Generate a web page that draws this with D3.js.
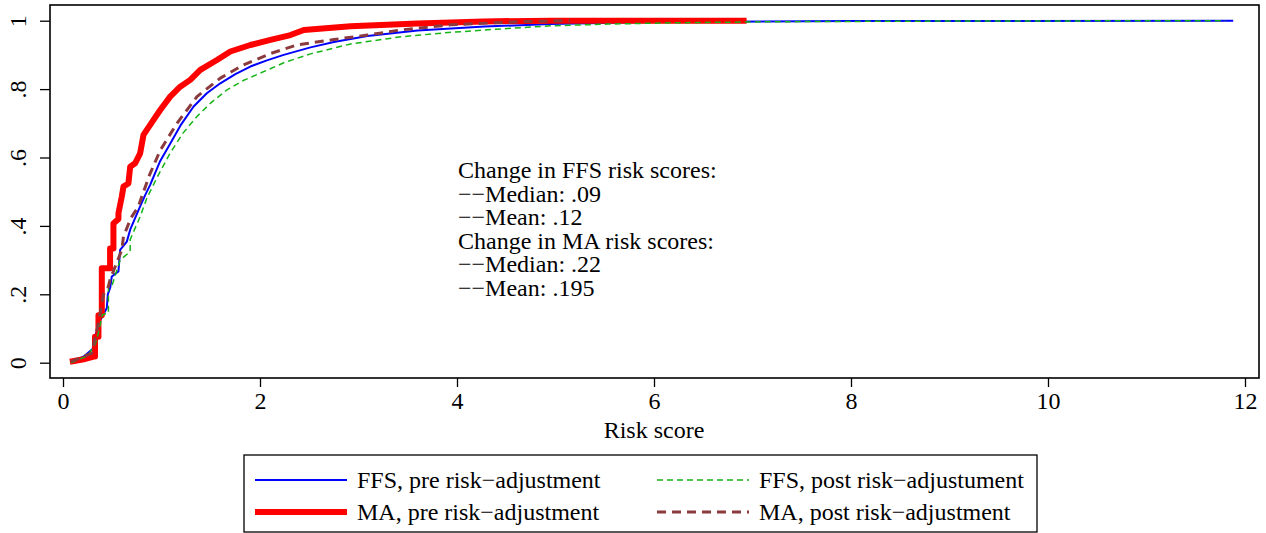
<!DOCTYPE html>
<html><head><meta charset="utf-8">
<script src="https://cdn.jsdelivr.net/npm/d3@7"></script>
<style>body{margin:0;background:#fff}svg{display:block}text{font-family:"Liberation Serif","Times New Roman",serif;fill:#000}</style>
</head><body>
<svg id="c" width="1266" height="533"></svg>
<script>
const xTicks = [0, 2, 4, 6, 8, 10, 12];
const yTicks = [0, 0.2, 0.4, 0.6, 0.8, 1];
const yTickLabels = ["0", ".2", ".4", ".6", ".8", "1"];
const xLabel = "Risk score";
const seriesNames = ["FFS, pre risk\u2212adjustment", "MA, pre risk\u2212adjustment", "FFS, post risk\u2212adjustument", "MA, post risk\u2212adjustment"];
const annotation = ["Change in FFS risk scores:", "\u2212\u2212Median: .09", "\u2212\u2212Mean: .12", "Change in MA risk scores:", "\u2212\u2212Median: .22", "\u2212\u2212Mean: .195"];

const ffsPre = [[0.08,0.0],[0.22,0.02],[0.3,0.04],[0.33,0.08],[0.37,0.12],[0.445,0.16],[0.455,0.2],[0.48,0.22],[0.495,0.252],[0.563,0.267],[0.58,0.33],[0.648,0.354],[0.682,0.389],[0.783,0.457],[0.834,0.49],[0.885,0.52],[0.987,0.59],[1.088,0.64],[1.2,0.697],[1.326,0.749],[1.46,0.788],[1.597,0.817],[1.75,0.844],[1.902,0.866],[2.07,0.884],[2.241,0.9],[2.513,0.922],[2.75,0.938],[3.09,0.955],[3.6,0.971],[4.28,0.983],[4.95,0.99],[6.0,0.996],[8.0,0.999],[11.88,1.0]];
const maPre = [[0.07,0.003],[0.21,0.01],[0.31,0.018],[0.325,0.018],[0.325,0.076],[0.36,0.076],[0.36,0.139],[0.394,0.139],[0.394,0.276],[0.478,0.276],[0.478,0.334],[0.512,0.334],[0.512,0.407],[0.563,0.42],[0.563,0.437],[0.597,0.486],[0.614,0.515],[0.664,0.524],[0.682,0.573],[0.732,0.583],[0.783,0.612],[0.817,0.666],[0.919,0.71],[0.987,0.739],[1.088,0.778],[1.19,0.807],[1.292,0.827],[1.394,0.856],[1.563,0.885],[1.699,0.91],[1.902,0.929],[2.106,0.944],[2.309,0.958],[2.445,0.973],[2.92,0.984],[3.6,0.992],[4.27,0.998],[4.95,1.0],[6.94,1.0]];
const ffsPost = [[0.08,0.0],[0.25,0.02],[0.32,0.05],[0.343,0.067],[0.4,0.14],[0.461,0.145],[0.461,0.223],[0.495,0.223],[0.58,0.30],[0.682,0.325],[0.682,0.36],[0.783,0.427],[0.851,0.481],[0.97,0.55],[1.088,0.613],[1.22,0.672],[1.36,0.72],[1.51,0.762],[1.665,0.798],[1.83,0.825],[2.004,0.847],[2.25,0.878],[2.513,0.903],[2.92,0.932],[3.43,0.953],[3.94,0.966],[4.45,0.976],[4.95,0.985],[5.53,0.99],[6.2,0.994],[7.22,0.997],[9.0,0.999],[11.8,1.0]];
const maPost = [[0.08,0.003],[0.292,0.028],[0.36,0.116],[0.41,0.199],[0.461,0.223],[0.478,0.243],[0.597,0.33],[0.614,0.369],[0.689,0.423],[0.766,0.457],[0.8,0.486],[0.88,0.55],[0.987,0.621],[1.157,0.7],[1.36,0.778],[1.597,0.832],[1.834,0.871],[2.106,0.904],[2.377,0.929],[2.75,0.945],[3.09,0.958],[3.43,0.973],[3.94,0.988],[4.62,0.997],[5.15,1.0]];

const svg = d3.select("#c");
const x = d3.scaleLinear().domain([0, 12]).range([63, 1245]);
const y = d3.scaleLinear().domain([0, 1]).range([362.7, 20.7]);
const FS = 24;

// frame
svg.append("rect").attr("x", 50).attr("y", 5).attr("width", 1209).attr("height", 373)
  .attr("fill", "none").attr("stroke", "#000").attr("stroke-width", 1.6);

// x axis
const xa = svg.append("g").attr("transform", "translate(0,378)")
  .call(d3.axisBottom(x).tickValues(xTicks).tickSize(9).tickPadding(5).tickFormat(d3.format("d")));
xa.select(".domain").remove();
xa.selectAll("line").attr("stroke", "#000").attr("stroke-width", 1.3);
xa.selectAll("text").attr("font-size", FS).attr("font-family", "Liberation Serif");

// y axis
const ya = svg.append("g").attr("transform", "translate(50,0)")
  .call(d3.axisLeft(y).tickValues(yTicks).tickSize(10).tickFormat((d, i) => yTickLabels[i]));
ya.select(".domain").remove();
ya.selectAll("line").attr("stroke", "#000").attr("stroke-width", 1.3);
ya.selectAll("text").attr("font-size", FS).attr("font-family", "Liberation Serif")
  .attr("x", null).attr("dy", null).attr("text-anchor", "middle")
  .attr("transform", "translate(-30,0) rotate(-90)").attr("dominant-baseline", "middle");

svg.append("text").attr("x", 654).attr("y", 438).attr("text-anchor", "middle")
  .attr("font-size", FS).text(xLabel);

const line = d3.line().x(d => x(d[0])).y(d => y(d[1]));
const styles = [
  {data: ffsPre, color: "#0000ff", w: 2, dash: null},
  {data: maPre, color: "#ff0000", w: 6, dash: null},
  {data: ffsPost, color: "#16b416", w: 1.5, dash: "6,4"},
  {data: maPost, color: "#8b3a3e", w: 3, dash: "9,6"}
];
styles.forEach(s => {
  svg.append("path").datum(s.data).attr("d", line).attr("fill", "none")
    .attr("stroke", s.color).attr("stroke-width", s.w)
    .attr("stroke-dasharray", s.dash).attr("stroke-linejoin", "round");
});

// annotation
const ann = svg.append("text").attr("font-size", FS);
annotation.forEach((t, i) => {
  ann.append("tspan").attr("x", 458).attr("y", 178 + i * 23.6).text(t);
});

// legend
svg.append("rect").attr("x", 244).attr("y", 455).attr("width", 793).attr("height", 77)
  .attr("fill", "none").attr("stroke", "#000").attr("stroke-width", 1.3);
const legPos = [[255, 480], [255, 512], [657, 480], [657, 512]];
[0, 1, 2, 3].forEach(i => {
  const s = styles[i];
  const [lx, ly] = legPos[i];
  svg.append("line").attr("x1", lx).attr("x2", lx + 92).attr("y1", ly).attr("y2", ly)
    .attr("stroke", s.color).attr("stroke-width", s.w).attr("stroke-dasharray", s.dash);
  svg.append("text").attr("x", lx + 102).attr("y", ly + 8).attr("font-size", FS).text(seriesNames[i]);
});
</script>
</body></html>
